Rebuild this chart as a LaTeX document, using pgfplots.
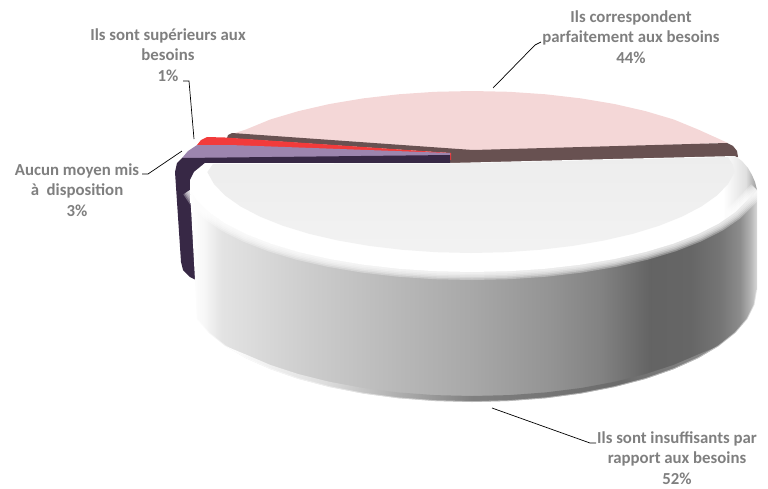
\documentclass[border=0pt]{standalone}
\usepackage{pgfplots}
\usepackage{fontspec}
\setmainfont{Carlito}
\pgfplotsset{compat=1.18}

% Horizontal light falloff across the wall of the disc
\pgfdeclarehorizontalshading{sideface}{100bp}{
  color(0bp)=(white);
  color(25bp)=(white);
  color(26.2bp)=(black!3);
  color(27.8bp)=(black!11);
  color(34.7bp)=(black!19);
  color(43.5bp)=(black!28);
  color(49.7bp)=(black!34);
  color(56.7bp)=(black!42);
  color(61.2bp)=(black!49);
  color(65.6bp)=(black!61);
  color(69.1bp)=(black!60);
  color(71.8bp)=(black!54);
  color(73.5bp)=(black!45);
  color(74.4bp)=(black!30);
  color(75bp)=(black!15);
  color(100bp)=(black!15)}
% Bevel on the lower edge
\pgfdeclarehorizontalshading{lipface}{100bp}{
  color(0bp)=(white);
  color(25bp)=(white);
  color(35bp)=(black!13);
  color(50bp)=(black!50);
  color(65bp)=(black!58);
  color(75bp)=(black!45);
  color(100bp)=(black!45)}
% Rounded top rim, darkening at the far right
\pgfdeclarehorizontalshading{rimface}{100bp}{
  color(0bp)=(white);
  color(72bp)=(white);
  color(74bp)=(black!12);
  color(75bp)=(black!40);
  color(100bp)=(black!40)}

\definecolor{labelgray}{HTML}{7F7F7F}
\definecolor{pinktop}{HTML}{F4D7D7}
\definecolor{brownband}{HTML}{685151}
\definecolor{redband}{HTML}{F23B3B}
\definecolor{mauve}{HTML}{9C85AE}
\definecolor{plum}{HTML}{372845}

\tikzset{slicelabel/.style={font=\fontsize{16.8}{20.5}\selectfont\bfseries, text=labelgray, align=center, inner sep=0pt}}

\begin{document}
\begin{tikzpicture}
\begin{axis}[
  scale only axis, width=768pt, height=488pt,
  xmin=0, xmax=768, ymin=0, ymax=488, y dir=reverse,
  hide axis, clip=false
]
% Page extent
\addplot[draw=none] coordinates {(0,0) (768,488)};
% 44 % slice: top face
\addplot[draw=none, fill=pinktop] coordinates {
  (728,143) (698.1,129.5) (673.5,119.4) (645.5,111.1) (614.5,104) (581.1,98.4) (545.8,94.3) (509.2,91.8) (472,91)
  (434.8,91.8) (398.2,94.3) (362.9,98.4) (329.5,104) (298.5,111.1) (270.5,119.4) (245.9,129.5) (232,134) (473,151)
} -- cycle;
% 44 % slice: cut face
\addplot[draw=none, fill=brownband] coordinates {
  (232,133) (473,150) (727,143) (733,146) (737,151) (738,157) (450,164) (450,153) (227,138) (228,135)
} -- cycle;
% 1 % slice
\addplot[draw=none, fill=redband] coordinates {
  (197,145) (201,140) (207,137) (225,137.5) (451,153) (451,160) (300,158)
} -- cycle;
% 3 % slice: top face
\addplot[draw=none, fill=mauve] coordinates {
  (182,158) (188,151) (197,145) (230,145) (450,153) (450,156) (300,158)
} -- cycle;
% 3 % slice: cut face
\addplot[draw=none, fill=plum] coordinates {
  (450,155) (450,163) (205,164) (196,280) (190,277) (183,270) (181,262)
  (175,172) (177,163) (182,158)
} -- cycle;

% 52 % slice: wall
\addplot[draw=none, shading=sideface] coordinates {
  (757,190) (757,290) (754.5,304.6) (747.3,319) (735.3,332.9) (718.8,346) (698.1,358.2) (673.5,369.2)
  (645.5,378.9) (614.5,387) (581.1,393.5) (545.8,398.2) (509.2,401) (472,402)
  (434.8,401) (398.2,398.2) (362.9,393.5) (329.5,387) (298.5,378.9) (270.5,369.2) (245.9,358.2)
  (225.2,346) (208.7,332.9) (196.7,319) (195,280) (190,190)
} -- cycle;
% 52 % slice: lower bevel
\addplot[draw=none, shading=lipface] coordinates {
  (225.2,346) (245.9,358.2) (270.5,369.2) (298.5,378.9) (329.5,387) (362.9,393.5) (398.2,398.2) (434.8,401) (472,402)
  (509.2,401) (545.8,398.2) (581.1,393.5) (614.5,387) (645.5,378.9) (673.5,369.2) (698.1,358.2) (718.8,346)
  (698.1,354.5) (673.5,365) (645.5,374.1) (614.5,381.8) (581.1,388) (545.8,392.4) (509.2,395.1) (472,396)
  (434.8,395.1) (398.2,392.4) (362.9,388) (329.5,381.8) (298.5,374.1) (270.5,365) (245.9,354.5)
} -- cycle;
% Softened outer edge of the wall
\addplot[draw=white, line width=1.6pt, opacity=0.45] coordinates {
  (757,290) (754.5,304.6) (747.3,319) (735.3,332.9) (718.8,346) (698.1,358.2) (673.5,369.2)
  (645.5,378.9) (614.5,387) (581.1,393.5) (545.8,398.2) (509.2,401) (472,402)
  (434.8,401) (398.2,398.2) (362.9,393.5) (329.5,387) (298.5,378.9) (270.5,369.2) (245.9,358.2)
  (225.2,346) (208.7,332.9) (196.7,319)
};
% 52 % slice: rim with soft lower edge
\addplot[draw=none, shading=rimface] coordinates {
  (205,163) (450,163) (735,156) (742,161) (748,168) (752,175) (755,182) (757,190)
  (747.3,200.1) (735.3,212.1) (718.8,223.5) (698.1,234) (673.5,243.6) (645.5,252) (614.5,259) (581.1,264.6) (545.8,268.7) (509.2,271.2) (472,272)
  (434.8,271.2) (398.2,268.7) (362.9,264.6) (329.5,259) (298.5,252) (270.5,243.6) (245.9,234) (225.2,223.5) (208.7,212.1) (196.7,200.1)
  (190,190) (190,180) (194,172)
} -- cycle;
\pgfplotsinvokeforeach{16,13,10,7,4}{
  \addplot[draw=white, line width=#1pt, opacity=0.3, line join=round] coordinates {
    (757,190) (747.3,200.1) (735.3,212.1) (718.8,223.5) (698.1,234) (673.5,243.6) (645.5,252) (614.5,259) (581.1,264.6) (545.8,268.7) (509.2,271.2) (472,272)
    (434.8,271.2) (398.2,268.7) (362.9,264.6) (329.5,259) (298.5,252) (270.5,243.6) (245.9,234) (225.2,223.5) (208.7,212.1) (196.7,200.1) (190,190)
  };
}
% 52 % slice: top face
\addplot[draw=none, top color=black!7, bottom color=black!5] coordinates {
  (213,164) (450,163.5) (728,157) (733,165) (734.7,172.1) (728,184.1) (716.8,195.6) (701.4,206.5) (682,216.6) (659,225.8) (633,233.8) (604,240.5) (572.8,245.9) (539.8,249.8) (505.7,252.2) (471,253)
  (436.3,252.2) (402.2,249.8) (369.2,245.9) (338,240.5) (309,233.8) (283,225.8) (260,216.6) (240.6,206.5) (225.2,195.6) (214,184.1) (207.3,172.1)
} -- cycle;

% Leader lines
\addplot[black, line width=0.7pt] coordinates {(493,88) (535,45) (541,42)};
\addplot[black, line width=0.7pt] coordinates {(183,81) (189,81) (194,139)};
\addplot[black, line width=0.7pt] coordinates {(142,174) (148,174) (182,151)};
\addplot[black, line width=0.7pt] coordinates {(492,408) (590,443) (596,443)};

% Slice labels
\node[slicelabel] at (axis cs:631,37) {Ils correspondent\\parfaitement aux besoins\\44\%};
\node[slicelabel] at (axis cs:168,55) {Ils sont supérieurs aux\\besoins\\1\%};
\node[slicelabel] at (axis cs:77,190) {Aucun moyen mis\\à~ disposition\\3\%};
\node[slicelabel] at (axis cs:677,458) {Ils sont insuffisants par\\rapport aux besoins\\52\%};
\end{axis}
\end{tikzpicture}
\end{document}
